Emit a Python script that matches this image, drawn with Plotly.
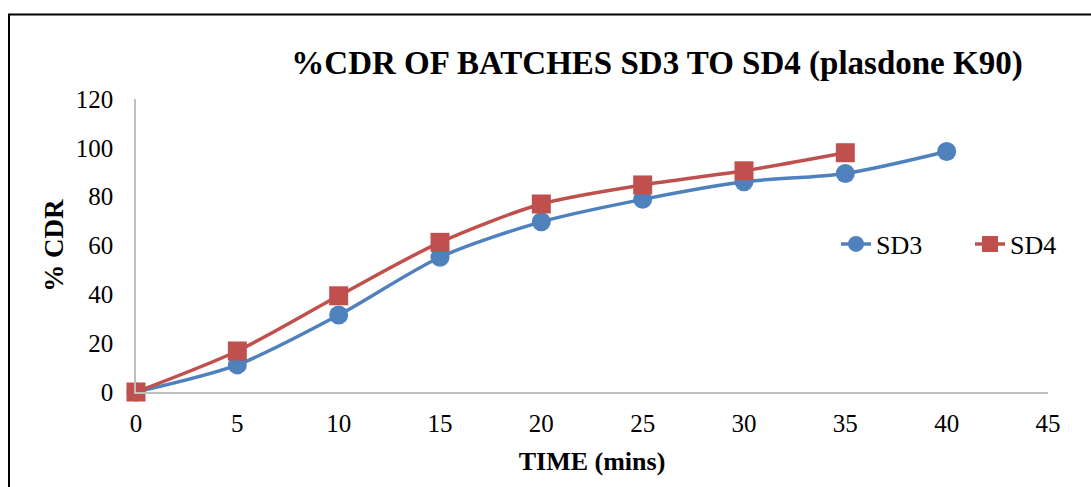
import plotly.graph_objects as go

# Dissolution time points (minutes)
time_sd3 = [0, 5, 10, 15, 20, 25, 30, 35, 40]
time_sd4 = [0, 5, 10, 15, 20, 25, 30, 35]

# Cumulative drug release (%)
cdr_sd3 = [0, 11.1, 31.5, 55.2, 69.7, 78.9, 86.1, 89.5, 98.5]
cdr_sd4 = [0, 16.8, 39.4, 61.3, 77.0, 84.8, 90.6, 98.0]

x_ticks = [0, 5, 10, 15, 20, 25, 30, 35, 40, 45]
y_ticks = [0, 20, 40, 60, 80, 100, 120]

BLUE = "#4F81BD"
RED = "#C0504D"
FONT = "Liberation Serif, Times New Roman, serif"

W, H = 1091, 487
ML, MR, MT, MB = 136, 43, 99, 95
PW, PH = W - ML - MR, H - MT - MB


def px_to_paper_x(px):
    return (px - ML) / PW


def px_to_paper_y(py):
    return (H - MB - py) / PH


fig = go.Figure()
fig.add_trace(go.Scatter(
    x=time_sd3, y=cdr_sd3, name="SD3", mode="lines+markers",
    line=dict(color=BLUE, width=3.5, shape="spline", smoothing=0.8),
    marker=dict(symbol="circle", size=19, color=BLUE),
    cliponaxis=False,
))
fig.add_trace(go.Scatter(
    x=time_sd4, y=cdr_sd4, name="SD4", mode="lines+markers",
    line=dict(color=RED, width=3.5, shape="spline", smoothing=0.8),
    marker=dict(symbol="square", size=19, color=RED),
    cliponaxis=False,
))

fig.update_layout(
    width=W, height=H,
    margin=dict(l=ML, r=MR, t=MT, b=MB, pad=0, autoexpand=False),
    paper_bgcolor="white", plot_bgcolor="white",
    font=dict(family=FONT, size=25, color="black"),
    title=dict(
        text="<b>%CDR OF BATCHES SD3 TO SD4 (plasdone K90)</b>",
        font=dict(family=FONT, size=33, color="black"),
        x=px_to_paper_x(657), xref="paper", xanchor="center",
        y=1 - 62 / H, yref="container", yanchor="middle",
    ),
    xaxis=dict(
        range=[0, 45], tickvals=x_ticks, showgrid=False, zeroline=False,
        showline=True, linecolor="#BFBFBF", linewidth=1.5,
        ticks="", ticklabelstandoff=8,
        tickfont=dict(family=FONT, size=25),
        title=dict(text="<b>TIME (mins)</b>", font=dict(family=FONT, size=26), standoff=16),
    ),
    yaxis=dict(
        range=[0, 120], tickvals=y_ticks, showgrid=False, zeroline=False,
        showline=True, linecolor="#BFBFBF", linewidth=1.5,
        ticks="", ticklabelstandoff=16,
        tickfont=dict(family=FONT, size=25),
        title=dict(text="<b>% CDR</b>", font=dict(family=FONT, size=27), standoff=4),
    ),
    legend=dict(
        orientation="h", x=px_to_paper_x(836), xanchor="left",
        y=px_to_paper_y(244), yanchor="middle",
        entrywidth=89, entrywidthmode="pixels",
        font=dict(family=FONT, size=26), bgcolor="rgba(0,0,0,0)",
    ),
    shapes=[dict(
        type="rect", xref="paper", yref="paper",
        x0=px_to_paper_x(9), x1=px_to_paper_x(1100),
        y0=px_to_paper_y(500), y1=px_to_paper_y(14.5),
        line=dict(color="black", width=2), fillcolor="rgba(0,0,0,0)",
        layer="below",
    )],
)

fig.write_html("out.html")
